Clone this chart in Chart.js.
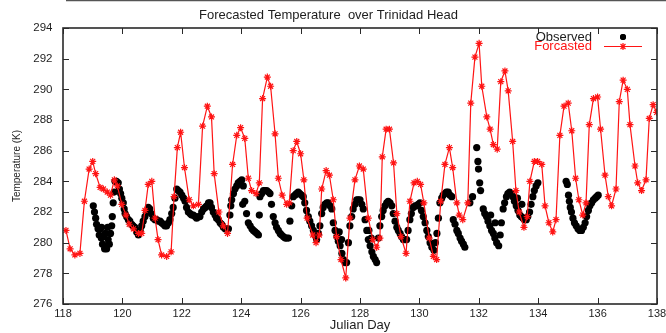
<!doctype html>
<html>
  <head>
    <meta charset="UTF-8">
    <title>Forecasted Temperature over Trinidad Head</title>
    <script src="https://cdn.jsdelivr.net/npm/chart.js"></script>
    <style>
      body { margin: 0; background: #fff; }
      canvas { display: block; }
    </style>
  </head>
  <body>
    <canvas id="temps" width="666" height="333"></canvas>
    <script>
      // axis ticks
      const dayTicks = [118, 120, 122, 124, 126, 128, 130, 132, 134, 136, 138];
      const tempTicks = [276, 278, 280, 282, 284, 286, 288, 290, 292, 294];

      // 3-hourly forecast (Julian day, K)
      const forecastDays = [
        118.10, 118.24, 118.40, 118.57, 118.72, 118.88, 119.00, 119.10, 119.25, 119.36,
        119.49, 119.60, 119.73, 119.83, 119.98, 120.12, 120.23, 120.37, 120.54, 120.65,
        120.76, 120.87, 120.99, 121.10, 121.20, 121.32, 121.49, 121.64, 121.74, 121.85,
        121.96, 122.09, 122.25, 122.39, 122.56, 122.70, 122.86, 123.00, 123.09, 123.25,
        123.40, 123.54, 123.71, 123.85, 123.98, 124.12, 124.24, 124.35, 124.50, 124.61,
        124.72, 124.88, 124.99, 125.14, 125.25, 125.38, 125.53, 125.62, 125.75, 125.87,
        126.00, 126.11, 126.22, 126.41, 126.52, 126.63, 126.71, 126.86, 126.97, 127.10,
        127.21, 127.36, 127.52, 127.66, 127.83, 127.98, 128.11, 128.28, 128.43, 128.56,
        128.67, 128.75, 128.88, 128.99, 129.13, 129.24, 129.38, 129.55, 129.68, 129.82,
        129.93, 130.04, 130.15, 130.33, 130.47, 130.58, 130.72, 130.86, 131.01, 131.12,
        131.26, 131.34, 131.46, 131.63, 131.73, 131.87, 132.01, 132.10, 132.27, 132.38,
        132.49, 132.62, 132.74, 132.88, 132.99, 133.14, 133.25, 133.36, 133.52, 133.63,
        133.72, 133.87, 133.98, 134.12, 134.23, 134.36, 134.49, 134.60, 134.73, 134.87,
        135.01, 135.13, 135.26, 135.37, 135.50, 135.61, 135.72, 135.86, 136.00, 136.10,
        136.25, 136.36, 136.47, 136.62, 136.73, 136.86, 137.00, 137.09, 137.26, 137.35,
        137.48, 137.63, 137.74, 137.87, 137.99
      ];
      const forecastTemps = [
        280.8, 279.6, 279.2, 279.3, 282.7, 284.8, 285.3, 284.5, 283.6, 283.5,
        283.3, 283.1, 284.1, 283.7, 282.5, 281.8, 281.2, 280.9, 280.6, 280.6,
        282.1, 283.8, 284.0, 281.6, 280.2, 279.2, 279.1, 279.4, 283.0, 286.2,
        287.2, 284.9, 282.8, 282.4, 282.5, 287.6, 288.9, 288.2, 284.5, 282.0,
        281.1, 280.6, 285.1, 287.0, 287.5, 286.8, 284.2, 283.4, 283.2, 283.9,
        289.4, 290.8, 290.2, 287.1, 284.2, 283.1, 282.5, 282.6, 286.0, 286.6,
        285.8, 284.1, 281.6, 280.5, 280.0, 280.5, 283.5, 284.7, 284.4, 282.8,
        280.4, 278.9, 277.7, 281.6, 284.1, 285.0, 284.8, 281.6, 280.2, 279.7,
        280.3, 285.6, 287.4, 287.4, 285.2, 281.9, 280.4, 279.3, 282.7, 283.9,
        284.0, 283.8, 282.6, 280.3, 279.1, 278.9, 282.7, 285.1, 286.2, 284.9,
        282.6, 281.8, 281.5, 282.6, 289.1, 292.1, 293.0, 290.2, 288.2, 287.4,
        286.4, 286.1, 290.5, 291.2, 289.9, 286.6, 283.4, 282.0, 281.0, 281.7,
        284.0, 285.3, 285.3, 285.1, 282.4, 281.3, 280.7, 281.5, 287.0, 288.9,
        289.1, 287.3, 284.2, 282.8, 281.8, 282.6, 287.7, 289.4, 289.5, 287.4,
        284.4, 283.0, 282.4, 283.5, 289.2, 290.6, 290.0, 287.7, 285.0, 283.9,
        283.4, 284.1, 288.1, 289.0, 288.5
      ];

      // observations (Julian day, K)
      const obsDays = [
        119.02, 119.06, 119.10, 119.13, 119.18, 119.22, 119.25, 119.29, 119.33, 119.36,
        119.40, 119.44, 119.47, 119.52, 119.56, 119.60, 119.64, 119.66, 119.69, 119.72,
        119.75, 119.80, 119.86, 119.90, 119.94, 119.98, 120.03, 120.06, 120.09, 120.14,
        120.20, 120.25, 120.31, 120.36, 120.42, 120.48, 120.54, 120.60, 120.65, 120.70,
        120.76, 120.82, 120.87, 120.92, 120.97, 121.04, 121.10, 121.15, 121.21, 121.27,
        121.32, 121.38, 121.43, 121.49, 121.55, 121.60, 121.66, 121.71, 121.77, 121.83,
        121.88, 121.94, 122.00, 122.06, 122.11, 122.16, 122.22, 122.28, 122.33, 122.39,
        122.45, 122.50, 122.56, 122.61, 122.67, 122.73, 122.79, 122.84, 122.90, 122.95,
        123.00, 123.06, 123.12, 123.17, 123.23, 123.29, 123.34, 123.40, 123.46, 123.51,
        123.57, 123.62, 123.65, 123.68, 123.74, 123.79, 123.85, 123.90, 123.96, 124.02,
        124.07, 124.05, 124.12, 124.18, 124.24, 124.30, 124.36, 124.41, 124.47, 124.53,
        124.58, 124.61, 124.63, 124.69, 124.75, 124.80, 124.86, 124.92, 124.97, 125.02,
        125.08, 125.14, 125.19, 125.25, 125.31, 125.36, 125.42, 125.48, 125.53, 125.59,
        125.64, 125.70, 125.75, 125.81, 125.86, 125.92, 125.97, 126.03, 126.09, 126.14,
        126.20, 126.26, 126.31, 126.37, 126.43, 126.48, 126.54, 126.60, 126.65, 126.71,
        126.76, 126.82, 126.88, 126.93, 126.99, 127.05, 127.10, 127.16, 127.22, 127.27,
        127.33, 127.39, 127.44, 127.50, 127.55, 127.61, 127.66, 127.72, 127.77, 127.83,
        127.89, 127.94, 128.00, 128.06, 128.11, 128.17, 128.23, 128.28, 128.34, 128.40,
        128.45, 128.51, 128.56, 128.62, 128.67, 128.73, 128.78, 128.84, 128.90, 128.95,
        129.01, 129.07, 129.12, 129.18, 129.24, 129.29, 129.35, 129.40, 129.46, 129.52,
        129.57, 129.62, 129.68, 129.73, 129.79, 129.85, 129.91, 129.96, 130.02, 130.07,
        130.13, 130.19, 130.25, 130.30, 130.36, 130.42, 130.49, 130.54, 130.59, 130.64,
        130.69, 130.75, 130.80, 130.86, 130.91, 130.97, 131.03, 131.09, 131.14, 131.20,
        131.26, 131.31, 131.37, 131.42, 131.48, 131.53, 131.70, 131.79, 131.93, 131.97,
        131.99, 132.03, 132.06, 132.15, 132.20, 132.26, 132.31, 132.37, 132.43, 132.49,
        132.54, 132.60, 132.67, 132.72, 132.76, 132.82, 132.87, 132.93, 132.98, 133.04,
        133.09, 133.15, 133.20, 133.26, 133.32, 133.38, 133.43, 133.49, 133.54, 133.60,
        133.65, 133.71, 133.76, 133.82, 133.87, 133.93, 133.99, 134.94, 134.98, 135.02,
        135.05, 135.08, 135.12, 135.17, 135.22, 135.28, 135.34, 135.40, 135.46, 135.52,
        135.58, 135.63, 135.69, 135.74, 135.80, 135.86, 135.92, 135.97, 136.02,
        // second, lower/upper strand where the band is thick
        119.30, 119.42, 119.50, 127.30, 127.38, 128.30, 128.38, 132.40, 132.55, 133.30,
        133.45
      ];
      const obsTemps = [
        282.4, 282.0, 281.6, 281.2, 280.9, 280.5, 280.9, 280.3, 279.9, 280.4,
        279.6, 279.8, 279.6, 280.2, 279.9, 280.6, 281.1, 281.7, 282.6, 283.3,
        284.0, 284.0, 283.9, 283.5, 283.2, 282.9, 282.6, 282.2, 281.9, 281.7,
        281.5, 281.4, 281.2, 281.1, 281.0, 280.7, 280.5, 280.8, 281.1, 281.4,
        281.7, 282.0, 282.3, 282.2, 281.9, 281.6, 281.5, 281.5, 281.4, 281.4,
        281.3, 281.2, 281.1, 281.1, 281.3, 281.5, 281.9, 282.3, 282.9, 283.5,
        283.4, 283.3, 283.1, 282.9, 282.7, 282.3, 282.0, 281.9, 281.8, 281.8,
        281.7, 281.6, 281.7, 281.7, 282.0, 282.2, 282.3, 282.4, 282.6, 282.6,
        282.3, 282.0, 281.8, 281.6, 281.5, 281.3, 281.2, 281.0, 280.9, 280.9,
        280.9, 281.8, 282.4, 282.8, 283.2, 283.5, 283.7, 283.9, 284.0, 284.1,
        283.7, 282.5, 282.7, 281.9, 281.3, 281.1, 280.9, 280.8, 280.7, 280.6,
        280.5, 281.8, 283.0, 283.2, 283.4, 283.4, 283.4, 283.3, 283.2, 282.5,
        281.7, 281.3, 281.0, 280.8, 280.6, 280.5, 280.4, 280.3, 280.3, 280.3,
        281.4, 282.4, 283.0, 283.1, 283.2, 283.3, 283.2, 283.1, 283.0, 282.6,
        282.1, 281.7, 281.4, 281.1, 280.8, 280.5, 280.2, 280.6, 281.1, 281.9,
        282.3, 282.5, 282.6, 282.6, 282.4, 282.2, 281.3, 280.8, 280.4, 280.1,
        279.8, 279.3, 278.9, 278.7, 278.7, 280.0, 281.1, 281.7, 282.2, 282.5,
        282.8, 282.8, 282.8, 282.5, 282.2, 281.5, 280.8, 280.2, 279.8, 279.4,
        279.1, 278.9, 278.7, 280.3, 281.1, 281.7, 282.1, 282.4, 282.6, 282.7,
        282.6, 282.4, 281.9, 281.4, 281.0, 280.8, 280.6, 280.4, 280.2, 280.2,
        280.2, 280.8, 281.5, 281.9, 282.3, 282.4, 282.4, 282.5, 282.6, 282.1,
        281.7, 281.3, 280.8, 280.4, 280.0, 279.7, 279.5, 280.0, 280.6, 281.6,
        282.6, 282.9, 283.1, 283.2, 283.3, 283.3, 283.1, 283.0, 281.5, 281.2,
        280.8, 280.6, 280.3, 280.1, 279.9, 279.7, 282.6, 283.0, 286.2, 285.3,
        284.8, 283.9, 283.4, 282.2, 281.9, 281.7, 281.4, 281.1, 280.8, 280.6,
        280.3, 280.0, 279.8, 280.5, 281.3, 282.2, 282.6, 283.0, 283.2, 283.3,
        283.2, 283.0, 282.7, 282.4, 282.1, 281.8, 281.7, 281.6, 281.5, 281.5,
        281.7, 282.0, 282.5, 283.0, 283.4, 283.7, 283.9, 284.0, 283.8, 283.1,
        282.7, 282.3, 282.0, 281.6, 281.3, 281.1, 280.9, 280.8, 280.8, 281.0,
        281.3, 281.7, 282.1, 282.4, 282.6, 282.8, 282.9, 283.0, 283.1,
        281.0, 280.6, 281.0, 280.7, 280.2, 280.8, 280.3, 281.8, 281.3, 282.9,
        282.5
      ];

      const FONT = '"Liberation Sans", Arial, Helvetica, sans-serif';
      const INK = '#1e1e1e';
      const RED = 'rgb(255, 20, 20)';

      function pairs(xs, ys) {
        return xs.map((x, i) => ({ x, y: ys[i] }));
      }

      // gnuplot style box with inward ticks on all four sides
      const frame = {
        id: 'frame',
        afterDraw(chart) {
          const { ctx, chartArea: a, scales: { x, y } } = chart;
          const len = 6;
          ctx.save();
          ctx.strokeStyle = '#2a2a2a';
          ctx.lineWidth = 1;
          ctx.beginPath();
          x.ticks.forEach(t => {
            const px = Math.round(x.getPixelForValue(t.value)) + 0.5;
            ctx.moveTo(px, a.bottom); ctx.lineTo(px, a.bottom - len);
            ctx.moveTo(px, a.top); ctx.lineTo(px, a.top + len);
          });
          y.ticks.forEach(t => {
            const py = Math.round(y.getPixelForValue(t.value)) + 0.5;
            ctx.moveTo(a.left, py); ctx.lineTo(a.left + len, py);
            ctx.moveTo(a.right, py); ctx.lineTo(a.right - len, py);
          });
          ctx.stroke();
          ctx.lineWidth = 1.6;
          ctx.strokeRect(a.left, a.top, a.right - a.left, a.bottom - a.top);
          // edge of the cropped figure above
          ctx.lineWidth = 1.2;
          ctx.strokeStyle = '#555';
          ctx.beginPath();
          ctx.moveTo(a.left + 3, 0.6); ctx.lineTo(chart.width, 0.6);
          ctx.stroke();
          ctx.restore();
        }
      };

      // key in the top right corner: text first, then sample
      const key = {
        id: 'key',
        afterDraw(chart) {
          const { ctx, chartArea: a } = chart;
          const [fc, obs] = chart.data.datasets;
          const textRight = a.right - 65;
          const sampleX = a.right - 34;
          const row1 = a.top + 9, row2 = a.top + 18.5;
          ctx.save();
          ctx.font = '13px ' + FONT;
          ctx.textAlign = 'right';
          ctx.textBaseline = 'middle';
          ctx.fillStyle = INK;
          ctx.fillText(obs.label, textRight, row1);
          ctx.fillStyle = RED;
          ctx.fillText(fc.label, textRight, row2);
          ctx.fillStyle = '#000';
          Chart.helpers.drawPoint(ctx, { pointStyle: 'circle', radius: 3, borderWidth: 0, rotation: 0 }, sampleX, row1);
          ctx.fill();
          ctx.strokeStyle = RED;
          ctx.lineWidth = 1.2;
          ctx.beginPath();
          ctx.moveTo(a.right - 53, row2); ctx.lineTo(a.right - 15, row2);
          ctx.stroke();
          Chart.helpers.drawPoint(ctx, { pointStyle: 'star', radius: 3.5, borderWidth: 1.2, rotation: 0 }, sampleX, row2);
          ctx.restore();
        }
      };

      new Chart(document.getElementById('temps'), {
        type: 'scatter',
        data: {
          datasets: [
            {
              label: 'Forcasted',
              data: pairs(forecastDays, forecastTemps),
              showLine: true,
              borderColor: RED,
              borderWidth: 1.2,
              backgroundColor: RED,
              pointStyle: 'star',
              pointRadius: 3.5,
              pointBorderWidth: 1.2,
              pointBorderColor: RED,
              order: 1
            },
            {
              label: 'Observed',
              data: pairs(obsDays, obsTemps),
              pointStyle: 'circle',
              pointRadius: 3.6,
              pointBorderWidth: 0,
              pointBackgroundColor: '#000',
              order: 2
            }
          ]
        },
        options: {
          responsive: false,
          animation: false,
          devicePixelRatio: 1,
          layout: { padding: { left: 0, right: 9, top: 0, bottom: 0 } },
          plugins: {
            legend: { display: false },
            tooltip: { enabled: false },
            title: {
              display: true,
              text: 'Forecasted Temperature  over Trinidad Head',
              color: INK,
              font: { family: FONT, size: 13, weight: 'normal' },
              padding: { top: 8, bottom: 4.4 }
            }
          },
          scales: {
            x: {
              type: 'linear',
              min: 118,
              max: 138,
              afterBuildTicks: s => { s.ticks = dayTicks.map(v => ({ value: v })); },
              afterFit: s => { s.height = 29; s.paddingLeft = 0; s.paddingRight = 0; },
              grid: { display: false, drawTicks: false },
              border: { display: false },
              ticks: { color: INK, font: { family: FONT, size: 11 }, padding: 3, maxRotation: 0, autoSkip: false },
              title: {
                display: true,
                text: 'Julian Day',
                color: INK,
                font: { family: FONT, size: 13 },
                padding: { top: 0, bottom: 0 }
              }
            },
            y: {
              min: 276,
              max: 294,
              afterBuildTicks: s => { s.ticks = tempTicks.map(v => ({ value: v })); },
              afterFit: s => { s.width = 63; },
              grid: { display: false, drawTicks: false },
              border: { display: false },
              ticks: { color: INK, font: { family: FONT, size: 11.5 }, padding: 10.5, autoSkip: false },
              title: {
                display: true,
                text: 'Temperature (K)',
                color: INK,
                font: { family: FONT, size: 10 },
                padding: { top: 11, bottom: 0 }
              }
            }
          }
        },
        plugins: [frame, key]
      });
    </script>
  </body>
</html>
